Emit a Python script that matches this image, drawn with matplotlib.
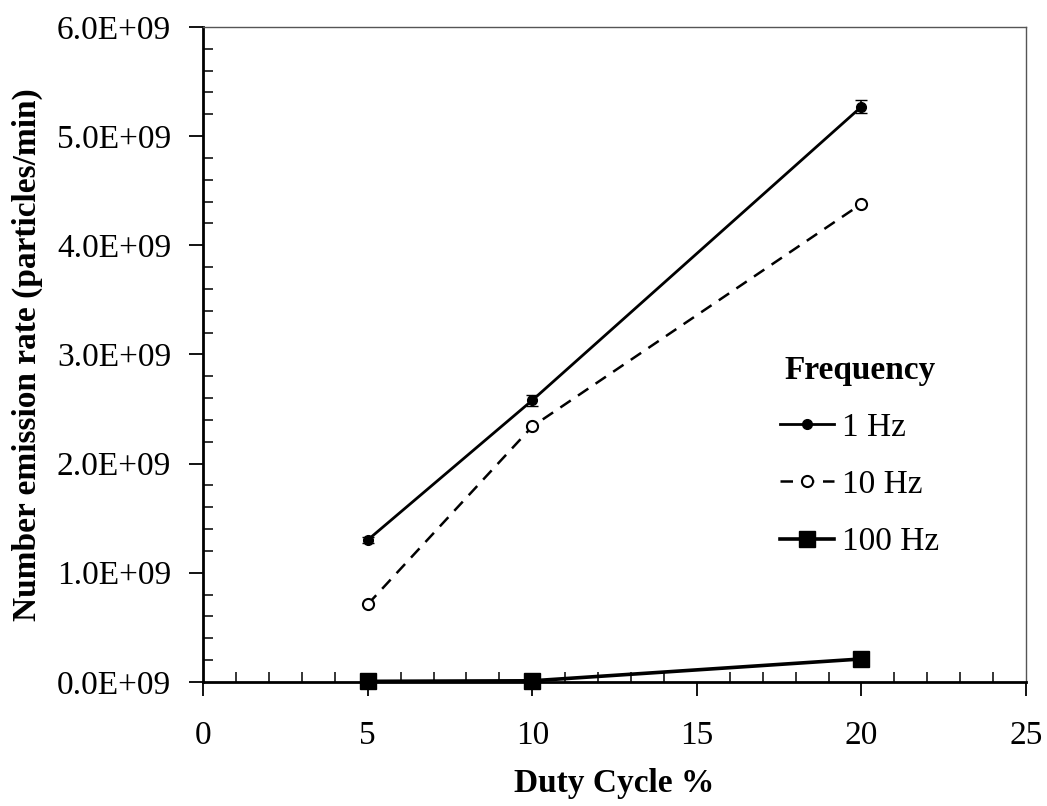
import matplotlib.pyplot as plt
from matplotlib.lines import Line2D
from matplotlib.ticker import MultipleLocator, FuncFormatter

plt.rcParams['font.family'] = ['Liberation Serif', 'DejaVu Serif']

duty = [5, 10, 20]
labels = ['1 Hz', '10 Hz', '100 Hz']
hz1 = [1.30e9, 2.58e9, 5.27e9]
hz1_err = [0.03e9, 0.05e9, 0.06e9]
hz10 = [0.71e9, 2.34e9, 4.38e9]
hz10_err = [0.02e9, 0.03e9, 0.02e9]
hz100 = [0.005e9, 0.01e9, 0.21e9]
hz100_err = [0.003e9, 0.005e9, 0.01e9]

fig = plt.figure(figsize=(10.47, 8.06), dpi=100)
ax = fig.add_axes([0.194, 0.154, 0.786, 0.8125])

dash = (0, (5, 3.5))
ax.errorbar(duty, hz1, yerr=hz1_err, color='black', lw=2, marker='o', ms=7,
            capsize=4, elinewidth=1.2, zorder=3)
ax.errorbar(duty, hz10, yerr=hz10_err, color='black', lw=1.8, ls=dash,
            marker='o', ms=8, mfc='white', mew=1.5, capsize=3, elinewidth=1.2,
            zorder=3)
ax.errorbar(duty, hz100, yerr=hz100_err, color='black', lw=2.6, marker='s', ms=11,
            capsize=3, elinewidth=1.2, zorder=3, clip_on=False)

ax.set_xlim(0, 25)
ax.set_ylim(0, 6e9)
ax.xaxis.set_major_locator(MultipleLocator(5))
ax.xaxis.set_minor_locator(MultipleLocator(1))
ax.yaxis.set_major_locator(MultipleLocator(1e9))
ax.yaxis.set_minor_locator(MultipleLocator(0.2e9))
ax.yaxis.set_major_formatter(FuncFormatter(lambda v, p: '%.1fE+%02d' % (v / 1e9, 9)))

ax.tick_params(which='major', direction='out', length=10, width=1.3,
               labelsize=24, top=False, right=False)
ax.tick_params(axis='x', which='major', pad=18)
ax.tick_params(axis='y', which='major', pad=13)
ax.tick_params(which='minor', direction='in', length=7, width=1.1,
               top=False, right=False)

for s in ['left', 'bottom']:
    ax.spines[s].set_linewidth(2)
for s in ['top', 'right']:
    ax.spines[s].set_linewidth(1)
    ax.spines[s].set_color('#555555')

ax.set_xlabel('Duty Cycle %', fontsize=24, fontweight='bold', labelpad=12)
ax.set_ylabel('Number emission rate (particles/min)', fontsize=24,
              fontweight='bold', labelpad=10)

handles = [
    Line2D([], [], color='black', lw=2, marker='o', ms=7),
    Line2D([], [], color='black', lw=1.8, ls=dash, marker='o', ms=8, mfc='white', mew=1.5),
    Line2D([], [], color='black', lw=2.6, marker='s', ms=11),
]
leg = ax.legend(handles, labels, loc='center left', bbox_to_anchor=(0.665, 0.345),
                frameon=False, fontsize=24, title='Frequency', handlelength=1.6,
                handletextpad=0.25, labelspacing=0.8)
leg.get_title().set_fontweight('bold')
leg.get_title().set_fontsize(24)

fig.savefig('out.png', dpi=100)
